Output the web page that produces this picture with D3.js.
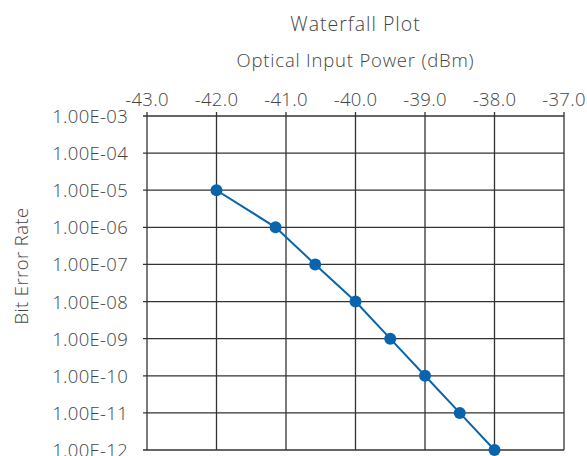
<!DOCTYPE html>
<html>
<head>
<meta charset="utf-8">
<script src="https://cdn.jsdelivr.net/npm/d3@7"></script>
<style>
  body { margin: 0; background: #fff; }
  svg { display: block; font-family: "Open Sans", "Noto Sans", sans-serif; font-weight: 300; }
</style>
</head>
<body>
<div id="chart"></div>
<script>
// data
const powerDbm = [-42.0, -41.15, -40.58, -40.0, -39.5, -39.0, -38.5, -38.0];
const bitErrorRate = [1e-5, 1e-6, 1e-7, 1e-8, 1e-9, 1e-10, 1e-11, 1e-12];
const xTicks = [-43, -42, -41, -40, -39, -38, -37];
const yTicks = [1e-3, 1e-4, 1e-5, 1e-6, 1e-7, 1e-8, 1e-9, 1e-10, 1e-11, 1e-12];

const width = 587, height = 456;
const margin = { top: 116, right: 23, bottom: 6, left: 147 };

const svg = d3.select('#chart').append('svg')
  .attr('width', width)
  .attr('height', height);

const x = d3.scaleLinear()
  .domain([-43, -37])
  .range([margin.left, width - margin.right]);

const y = d3.scaleLog()
  .domain([1e-3, 1e-12])
  .range([margin.top, height - margin.bottom]);

const gridColor = '#333';
const textColor = '#444';
const labelSize = '18.5px';

// vertical grid + top ticks
svg.append('g')
  .selectAll('line')
  .data(xTicks)
  .join('line')
  .attr('x1', d => x(d)).attr('x2', d => x(d))
  .attr('y1', margin.top - 4).attr('y2', height - margin.bottom)
  .attr('stroke', gridColor)
  .attr('stroke-width', 1.3);

// horizontal grid + left ticks
svg.append('g')
  .selectAll('line')
  .data(yTicks)
  .join('line')
  .attr('x1', margin.left - 4).attr('x2', width - margin.right)
  .attr('y1', d => y(d)).attr('y2', d => y(d))
  .attr('stroke', gridColor)
  .attr('stroke-width', 1.3);

// x tick labels (top)
svg.append('g')
  .selectAll('text')
  .data(xTicks)
  .join('text')
  .attr('x', d => x(d))
  .attr('y', 106)
  .attr('text-anchor', 'middle')
  .attr('fill', textColor)
  .style('font-size', labelSize)
  .style('letter-spacing', '0.3px')
  .text(d => d3.format('.1f')(d).replace('−', '-'));

// y tick labels
const fmtE = d => {
  const exp = Math.round(Math.log10(d));
  const s = exp < 0 ? '-' : '+';
  return '1.00E' + s + String(Math.abs(exp)).padStart(2, '0');
};
svg.append('g')
  .selectAll('text')
  .data(yTicks)
  .join('text')
  .attr('x', 128)
  .attr('y', d => y(d))
  .attr('dy', '0.38em')
  .attr('text-anchor', 'end')
  .attr('fill', textColor)
  .style('font-size', labelSize)
  .style('letter-spacing', '0.3px')
  .text(fmtE);

// titles
svg.append('text')
  .attr('x', (x.range()[0] + x.range()[1]) / 2)
  .attr('y', 30.5)
  .attr('text-anchor', 'middle')
  .attr('fill', textColor)
  .style('font-size', '19.5px')
  .style('letter-spacing', '1px')
  .text('Waterfall Plot');

svg.append('text')
  .attr('x', (x.range()[0] + x.range()[1]) / 2)
  .attr('y', 66.5)
  .attr('text-anchor', 'middle')
  .attr('fill', textColor)
  .style('font-size', labelSize)
  .style('letter-spacing', '0.8px')
  .text('Optical Input Power (dBm)');

svg.append('text')
  .attr('transform', 'translate(28,266) rotate(-90)')
  .attr('text-anchor', 'middle')
  .attr('fill', textColor)
  .style('font-size', labelSize)
  .style('letter-spacing', '0.4px')
  .text('Bit Error Rate');

// series
const pts = powerDbm.map((p, i) => ({ p: p, ber: bitErrorRate[i] }));
const blue = '#0865ad';

svg.append('path')
  .datum(pts)
  .attr('fill', 'none')
  .attr('stroke', blue)
  .attr('stroke-width', 2)
  .attr('d', d3.line().x(d => x(d.p)).y(d => y(d.ber)));

svg.append('g')
  .selectAll('circle')
  .data(pts)
  .join('circle')
  .attr('cx', d => x(d.p))
  .attr('cy', d => y(d.ber))
  .attr('r', 6)
  .attr('fill', blue);
</script>
</body>
</html>
